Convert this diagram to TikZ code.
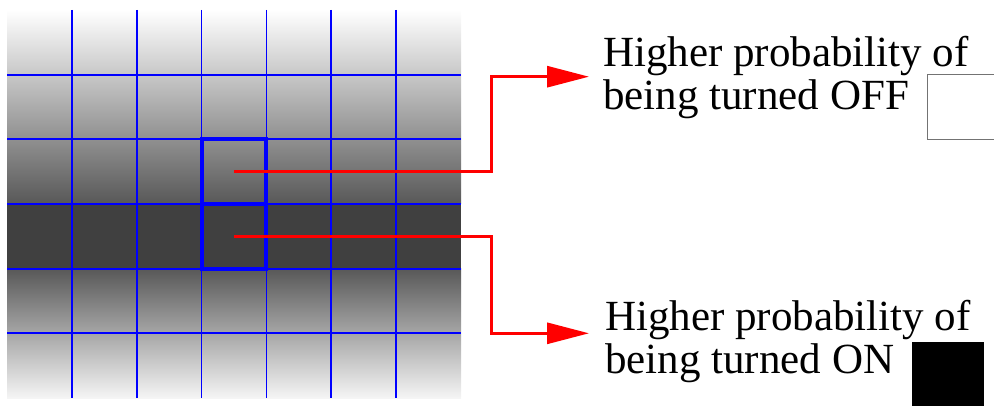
\documentclass[tikz,border=0pt]{standalone}
\usepackage{fontspec}
\setmainfont{Liberation Serif}
\usetikzlibrary{arrows.meta,positioning}
\definecolor{cGrid}{RGB}{0,0,255}
\definecolor{cLink}{RGB}{255,0,0}
\definecolor{cDark}{RGB}{64,64,64}
\definecolor{cMid}{RGB}{88,88,88}
\tikzset{
  gridln/.style ={draw=cGrid,line width=1.8pt},
  cellbox/.style={draw=cGrid,line width=4pt,minimum width=64.86pt,
                  minimum height=64.67pt,inner sep=0pt,outer sep=0pt},
  link/.style   ={draw=cLink,line width=3pt,
                  -{Triangle[length=42pt,width=21pt]}},
  lbl/.style    ={font=\fontsize{43}{43}\selectfont,align=left,inner sep=0pt,
                  anchor=base west},
  swatch/.style ={inner sep=0pt,outer sep=0pt,anchor=north west},
}
\begin{document}
\begin{tikzpicture}[x=1pt,y=-1pt]
\useasboundingbox (0,0) rectangle (994,406);
\clip (0,0) rectangle (994,406);

% shaded field behind the grid
\shade[top color=white,bottom color=cMid] (7,10) rectangle (461,204);
\fill[cDark] (7,204) rectangle (461,268.7);
\shade[top color=cMid,bottom color=white!96!black] (7,268.7) rectangle (461,398);

% grid lines
\foreach \i in {1,...,6}{\draw[gridln] ({7+64.86*\i},10) -- ({7+64.86*\i},398);}
\foreach \j in {1,...,5}{\draw[gridln] (7,{10+64.67*\j}) -- (461,{10+64.67*\j});}

% the two marked cells
\node[cellbox] (offcell) at (234,171.7) {};
\node[cellbox] (oncell)  at (234,236.3) {};

% labels and their swatches (base = last line)
\node[lbl] (offtxt) at (603,110) {Higher probability of\\being turned OFF};
\node[lbl] (ontxt)  at (605,373) {Higher probability of\\being turned ON};
\node[swatch,draw=black!55,line width=0.8pt,minimum width=80pt,
      minimum height=65pt] (offsw) at (927,74.3) {};
\node[swatch,fill=black,minimum width=72pt,minimum height=70pt]
      (onsw) at (912,342) {};

% connectors, bent on one vertical rail
\coordinate (rail)   at (491.7,0);
\coordinate (offtip) at (589,76.7);
\coordinate (ontip)  at (589,333.3);
\draw[link] (offcell.center) -- (offcell.center -| rail) |- (offtip);
\draw[link] (oncell.center)  -- (oncell.center -| rail)  |- (ontip);
\end{tikzpicture}
\end{document}
